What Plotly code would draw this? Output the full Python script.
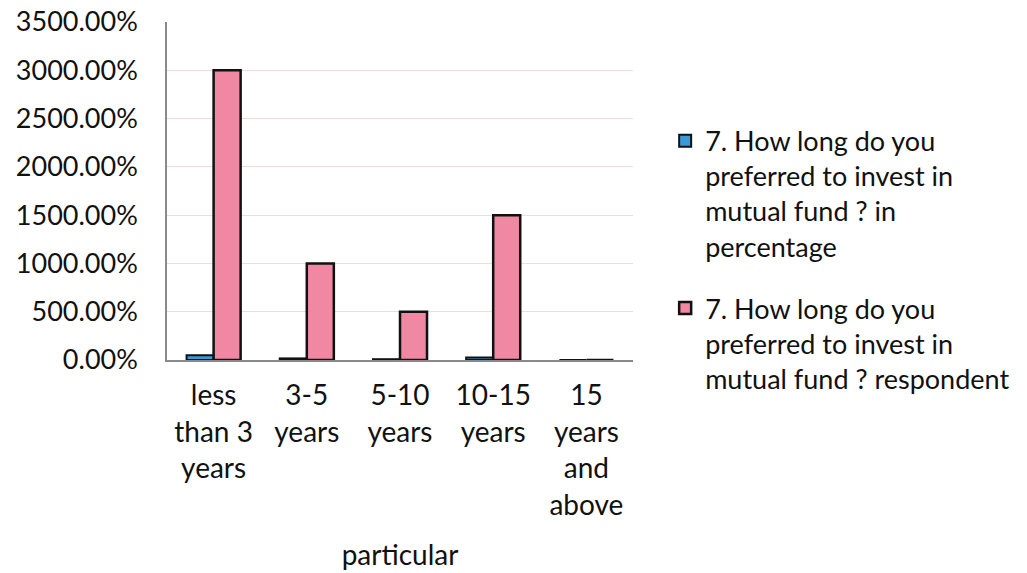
import plotly.graph_objects as go

# Survey: preferred investment horizon for mutual funds
categories = ["less<br>than 3<br>years", "3-5<br>years", "5-10<br>years", "10-15<br>years", "15<br>years<br>and<br>above"]
pct_share = [0.50, 0.1667, 0.0833, 0.25, 0.0]
respondents = [30, 10, 5, 15, 0]

series_pct = "7. How long do you<br>preferred to invest in<br>mutual fund ? in<br>percentage"
series_resp = "7. How long do you<br>preferred to invest in<br>mutual fund ? respondent"

y_ticks = [0, 5, 10, 15, 20, 25, 30, 35]

FONT = "Lato"
INK = "#111111"

fig = go.Figure()
fig.add_trace(go.Bar(
    x=categories, y=pct_share, name=series_pct, legendgroup="pct",
    marker=dict(color="#3A9AD9", line=dict(color="#111111", width=2)),
))
fig.add_trace(go.Bar(
    x=categories, y=respondents, name=series_resp, legendgroup="resp",
    marker=dict(color="#F087A3", line=dict(color="#111111", width=2.5)),
))

fig.update_layout(
    width=1027, height=573,
    margin=dict(l=167, r=392, t=22, b=213),
    paper_bgcolor="white", plot_bgcolor="white",
    font=dict(family=FONT, size=27, color=INK),
    barmode="group", bargap=0.42, bargroupgap=0.0,
    showlegend=True,
    legend=dict(
        x=1.069, y=0.72, xanchor="left", yanchor="top",
        font=dict(family=FONT, size=27, color=INK),
        tracegroupgap=24, itemwidth=30, valign="top",
        bgcolor="rgba(0,0,0,0)",
    ),
)

fig.update_yaxes(
    range=[0, 35], tickvals=y_ticks, tickformat=".2%",
    showgrid=True, gridcolor="#f1dcdc", gridwidth=1,
    showline=True, linecolor="#8a8a8a", linewidth=1.5,
    ticks="outside", ticklen=22, tickcolor="rgba(0,0,0,0)",
    tickfont=dict(family=FONT, size=27, color=INK),
    zeroline=False, automargin=False,
)
fig.update_xaxes(
    showline=True, linecolor="#8a8a8a", linewidth=1.5,
    ticks="outside", ticklen=10, tickcolor="rgba(0,0,0,0)",
    tickfont=dict(family=FONT, size=28, color=INK),
    title=dict(text="particular", font=dict(family=FONT, size=28, color=INK), standoff=26),
    tickangle=0, automargin=False,
)

fig.write_html("out.html")
